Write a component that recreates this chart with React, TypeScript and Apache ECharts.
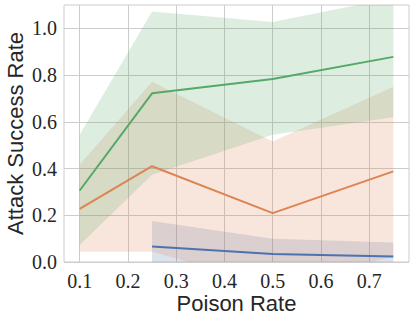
import React, { useEffect, useRef } from 'react';
import * as echarts from 'echarts';

// Poison rates (x) for each group
const poisonRates = [0.1, 0.25, 0.5, 0.75];
const blueRates = [0.25, 0.5, 0.75];

// Blue group
const blueMean = [0.066, 0.034, 0.024];
const blueUpper = [0.176, 0.099, 0.083];
const blueLower = [-0.044, -0.031, -0.035];

// Orange group
const orangeMean = [0.227, 0.41, 0.209, 0.388];
const orangeUpper = [0.416, 0.771, 0.516, 0.75];
const orangeLower = [0.044, 0.044, -0.1, 0.023];

// Green group
const greenMean = [0.306, 0.722, 0.783, 0.878];
const greenUpper = [0.545, 1.072, 1.027, 1.131];
const greenLower = [0.073, 0.373, 0.545, 0.62];

// Tick labels
const xTicks = [0.1, 0.2, 0.3, 0.4, 0.5, 0.6, 0.7];
const yTicks = [0.0, 0.2, 0.4, 0.6, 0.8, 1.0];

const BLUE = '#4c72b0';
const ORANGE = '#dd8452';
const GREEN = '#55a868';

function band(xs: number[], lo: number[], hi: number[], fill: string) {
  return {
    type: 'custom',
    clip: true,
    silent: true,
    z: 1,
    data: [[xs[0], hi[0]]],
    encode: { x: 0, y: 1 },
    renderItem: (_params: any, api: any) => {
      const pts: number[][] = [];
      for (let i = 0; i < xs.length; i++) pts.push(api.coord([xs[i], hi[i]]));
      for (let i = xs.length - 1; i >= 0; i--) pts.push(api.coord([xs[i], lo[i]]));
      return {
        type: 'polygon',
        shape: { points: pts },
        style: { fill, stroke: 'none' },
      };
    },
  };
}

function line(xs: number[], ys: number[], color: string) {
  return {
    type: 'line',
    z: 3,
    silent: true,
    showSymbol: false,
    data: xs.map((x, i) => [x, ys[i]]),
    lineStyle: { color, width: 2 },
    itemStyle: { color },
  };
}

export default function App() {
  const ref = useRef<HTMLDivElement>(null);
  useEffect(() => {
    document.body.style.margin = '0';
    document.body.style.overflow = 'hidden';
    if (!ref.current) return;
    const chart = echarts.init(ref.current, undefined, { renderer: 'svg' });
    const tickColor = '#262626';
    chart.setOption({
      animation: false,
      backgroundColor: '#ffffff',
      grid: {
        left: 64,
        right: 6,
        top: 5,
        bottom: 59,
        show: true,
        borderColor: '#cccccc',
        borderWidth: 1,
        backgroundColor: 'transparent',
        containLabel: false,
        outerBoundsMode: 'none',
      },
      xAxis: {
        type: 'value',
        min: 0.0675,
        max: 0.7825,
        name: 'Poison Rate',
        nameLocation: 'middle',
        nameGap: 30,
        nameMoveOverlap: false,
        nameTextStyle: { fontFamily: 'Liberation Sans', fontSize: 22, color: tickColor },
        axisLine: { show: false },
        axisTick: { show: false, customValues: xTicks },
        axisLabel: {
          customValues: xTicks,
          margin: 9,
          fontFamily: 'Liberation Serif',
          fontSize: 20,
          color: tickColor,
          formatter: (v: number) => v.toFixed(1),
        },
        splitLine: { show: true, lineStyle: { color: '#cccccc', width: 1 } },
      },
      yAxis: {
        type: 'value',
        min: 0,
        max: 1.1,
        name: 'Attack Success Rate',
        nameLocation: 'middle',
        nameGap: 38,
        nameMoveOverlap: false,
        nameTextStyle: { fontFamily: 'Liberation Sans', fontSize: 22, color: tickColor },
        axisLine: { show: false },
        axisTick: { show: false, customValues: yTicks },
        axisLabel: {
          customValues: yTicks,
          margin: 7,
          fontFamily: 'Liberation Serif',
          fontSize: 20,
          color: tickColor,
          formatter: (v: number) => v.toFixed(1),
        },
        splitLine: { show: true, lineStyle: { color: '#cccccc', width: 1 } },
      },
      series: [
        band(blueRates, blueLower, blueUpper, 'rgba(76,114,176,0.2)'),
        band(poisonRates, orangeLower, orangeUpper, 'rgba(221,132,82,0.2)'),
        band(poisonRates, greenLower, greenUpper, 'rgba(85,168,104,0.2)'),
        line(blueRates, blueMean, BLUE),
        line(poisonRates, orangeMean, ORANGE),
        line(poisonRates, greenMean, GREEN),
      ],
    });
    return () => chart.dispose();
  }, []);
  return <div ref={ref} style={{ width: 415, height: 321 }} />;
}
